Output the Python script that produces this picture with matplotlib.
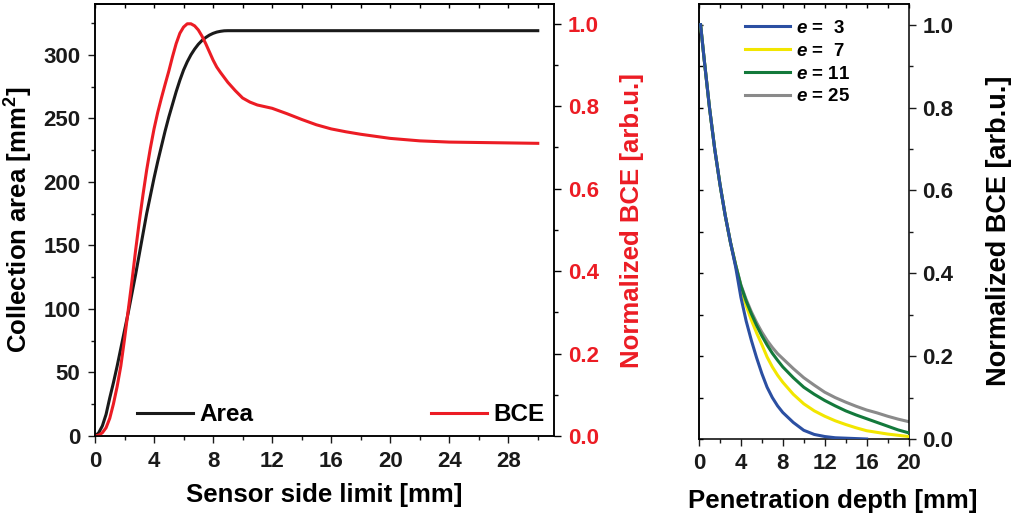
import matplotlib
matplotlib.use('Agg')
import matplotlib.pyplot as plt
import numpy as np
from matplotlib.ticker import MultipleLocator, FormatStrFormatter

plt.rcParams['font.family'] = ['Liberation Sans', 'DejaVu Sans']
plt.rcParams['font.weight'] = 'bold'
plt.rcParams['mathtext.fontset'] = 'custom'
plt.rcParams['mathtext.rm'] = 'Liberation Sans:bold'
plt.rcParams['mathtext.it'] = 'Liberation Sans:bold:italic'
plt.rcParams['mathtext.bf'] = 'Liberation Sans:bold'
plt.rcParams['axes.linewidth'] = 1.1

# left panel: collection area and BCE vs sensor side limit
side = [0, 0.25, 0.5, 0.75, 1, 1.25, 1.5, 1.75, 2, 2.25, 2.5, 2.75, 3, 3.25, 3.5, 3.75,
        4, 4.25, 4.5, 4.75, 5, 5.25, 5.5, 5.75, 6, 6.25, 6.5, 6.75, 7, 7.25, 7.5, 7.75,
        8, 8.25, 8.5, 8.75, 9, 9.5, 10, 10.5, 11, 12, 13, 14, 15, 16, 17, 18, 19, 20,
        21, 22, 24, 26, 28, 30]
area = [0, 2.5, 8, 17, 30, 42, 55, 69, 83, 97, 112, 127, 143, 159, 175, 189,
        203, 216, 228, 240, 251, 261, 271, 280, 288, 294.5, 300, 304.5, 308.3, 311.3, 313.6, 315.5,
        316.9, 317.9, 318.5, 318.9, 319, 319, 319, 319, 319, 319, 319, 319, 319, 319, 319, 319, 319, 319,
        319, 319, 319, 319, 319, 319]
bce = [0, 0.002, 0.008, 0.02, 0.043, 0.078, 0.12, 0.17, 0.235, 0.305, 0.375, 0.45, 0.52, 0.585, 0.645, 0.698,
       0.745, 0.785, 0.82, 0.853, 0.885, 0.92, 0.952, 0.977, 0.992, 1.0, 1.0, 0.995, 0.985, 0.97, 0.952, 0.932,
       0.912, 0.895, 0.882, 0.87, 0.858, 0.838, 0.82, 0.81, 0.803, 0.795, 0.782, 0.768, 0.755, 0.745, 0.738, 0.732,
       0.727, 0.722, 0.719, 0.716, 0.713, 0.712, 0.711, 0.71]

# right panel: BCE vs penetration depth for several e
depth = [0.15, 0.5, 1, 1.5, 2, 2.5, 3, 3.5, 4, 4.5, 5, 5.5, 6, 6.5, 7, 7.5, 8, 9, 10,
         11, 12, 13, 14, 15, 16, 17, 18, 19, 20]
e3 = [1.0, 0.915, 0.8, 0.7, 0.615, 0.54, 0.475, 0.415, 0.342, 0.285, 0.238, 0.196, 0.158, 0.125, 0.1, 0.08,
      0.064, 0.04, 0.021, 0.011, 0.006, 0.003, 0.002, 0.001, 0.0, np.nan, np.nan, np.nan, np.nan]
e7 = [1.0, 0.915, 0.8, 0.7, 0.615, 0.54, 0.475, 0.42, 0.363, 0.322, 0.287, 0.256, 0.228, 0.198, 0.174, 0.154,
      0.137, 0.108, 0.085, 0.068, 0.055, 0.044, 0.035, 0.027, 0.02, 0.016, 0.012, 0.009, 0.006]
e11 = [1.0, 0.915, 0.8, 0.7, 0.615, 0.54, 0.475, 0.42, 0.37, 0.333, 0.302, 0.274, 0.249, 0.227, 0.207, 0.19,
       0.174, 0.148, 0.125, 0.108, 0.093, 0.08, 0.068, 0.058, 0.049, 0.04, 0.031, 0.022, 0.015]
e25 = [1.0, 0.915, 0.8, 0.7, 0.615, 0.54, 0.475, 0.42, 0.372, 0.337, 0.307, 0.281, 0.258, 0.238, 0.221, 0.206,
       0.194, 0.17, 0.148, 0.13, 0.113, 0.1, 0.089, 0.079, 0.07, 0.063, 0.055, 0.048, 0.042]
e_labels = ['$e$ =  3', '$e$ =  7', '$e$ = 11', '$e$ = 25']
e_colors = ['#2b4fa2', '#f2e600', '#13793b', '#8a8a8a']

red = '#ec1c24'
black = '#1a1a1a'
tsize = 16
lsize = 18.5

fig = plt.figure(figsize=(10.11, 5.15), dpi=100)

# ---- left panel
ax1 = fig.add_axes([95/1011, 79/515, 459/1011, 432/515])
ax1.plot(side, area, color=black, lw=2.2, label='Area')
ax1.set_xlim(0, 31.1)
ax1.set_ylim(0, 340)
ax1.xaxis.set_major_locator(MultipleLocator(4))
ax1.xaxis.set_minor_locator(MultipleLocator(2))
ax1.yaxis.set_major_locator(MultipleLocator(50))
ax1.yaxis.set_minor_locator(MultipleLocator(25))
ax1.tick_params(which='both', direction='out', labelsize=tsize, width=1, colors=black, pad=5.5)
ax1.tick_params(which='major', length=5)
ax1.tick_params(which='minor', length=3)
ax1.set_xlabel('Sensor side limit [mm]', fontsize=lsize, fontweight='bold', labelpad=8)
ax1.set_ylabel('Collection area [mm$^2$]', fontsize=lsize, fontweight='bold', labelpad=6)
top1 = ax1.secondary_xaxis('top')
top1.xaxis.set_major_locator(MultipleLocator(2))
top1.tick_params(direction='in', length=3, labeltop=False, width=1)

ax2 = ax1.twinx()
ax2.plot(side, bce, color=red, lw=2.2, label='BCE')
ax2.set_ylim(0, 1.048)
ax2.yaxis.set_major_locator(MultipleLocator(0.2))
ax2.yaxis.set_minor_locator(MultipleLocator(0.1))
ax2.yaxis.set_major_formatter(FormatStrFormatter('%.1f'))
ax2.tick_params(which='both', direction='out', labelsize=tsize, width=1, labelcolor=red, pad=5)
ax2.tick_params(which='major', length=5)
ax2.tick_params(which='minor', length=3)
ax2.set_ylabel('Normalized BCE [arb.u.]', fontsize=lsize, fontweight='bold', color=red, labelpad=15)

leg_font = {'size': 17.5, 'weight': 'bold'}
ax1.legend(loc='lower left', bbox_to_anchor=(0.0915, 0.022), frameon=False, prop=leg_font,
           handlelength=2.3, handletextpad=0.28, borderaxespad=0, borderpad=0)
ax2.legend(loc='lower right', bbox_to_anchor=(0.98, 0.022), frameon=False, prop=leg_font,
           handlelength=2.3, handletextpad=0.28, borderaxespad=0, borderpad=0)

# ---- right panel
ax3 = fig.add_axes([699/1011, 76/515, 209.5/1011, 435/515])
series = [e3, e7, e11, e25]
zorders = [5, 3, 4, 2]
for vals, lab, col, z in zip(series, e_labels, e_colors, zorders):
    ax3.plot(depth, vals, color=col, lw=2.2, label=lab, zorder=z)
ax3.set_xlim(0, 20)
ax3.set_ylim(0, 1.05)
ax3.xaxis.set_major_locator(MultipleLocator(4))
ax3.xaxis.set_minor_locator(MultipleLocator(2))
ax3.yaxis.set_major_locator(MultipleLocator(0.2))
ax3.yaxis.set_minor_locator(MultipleLocator(0.1))
ax3.yaxis.set_major_formatter(FormatStrFormatter('%.1f'))
ax3.yaxis.tick_right()
ax3.yaxis.set_label_position('right')
ax3.tick_params(which='both', direction='out', labelsize=tsize, width=1, colors=black, pad=5)
ax3.tick_params(which='major', length=5)
ax3.tick_params(which='minor', length=3)
ax3.set_xlabel('Penetration depth [mm]', fontsize=lsize, fontweight='bold')
ax3.xaxis.set_label_coords(0.64, -0.115)
ax3.set_ylabel('Normalized BCE [arb.u.]', fontsize=19.5, fontweight='bold')
ax3.yaxis.set_label_coords(1.37, 0.478)
top3 = ax3.secondary_xaxis('top')
top3.xaxis.set_major_locator(MultipleLocator(2))
top3.tick_params(direction='in', length=3, labeltop=False, width=1)
left3 = ax3.secondary_yaxis('left')
left3.yaxis.set_major_locator(MultipleLocator(0.1))
left3.tick_params(direction='in', length=3, labelleft=False, width=1)

ax3.legend(loc='upper left', bbox_to_anchor=(0.22, 0.9634), frameon=False,
           prop={'size': 13.5, 'weight': 'bold'}, handlelength=2.4, handletextpad=0.3,
           labelspacing=0.3, borderaxespad=0, borderpad=0)

fig.savefig('out.png', dpi=100)
